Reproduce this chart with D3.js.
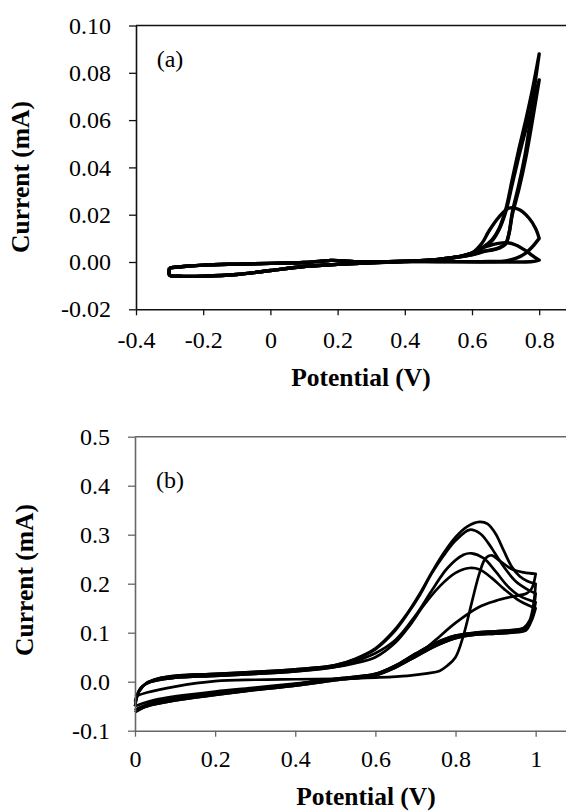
<!DOCTYPE html>
<html>
<head>
<meta charset="utf-8">
<script src="https://cdn.jsdelivr.net/npm/d3@7"></script>
<style>
  body { margin: 0; background: #fff; }
  svg { display: block; }
</style>
</head>
<body>
<div id="chart"></div>
<script>
// ---------- panel (a) data: [potential V, current mA] ----------
const aTicksX = [-0.4, -0.2, 0, 0.2, 0.4, 0.6, 0.8];
const aLabelsX = ["-0.4", "-0.2", "0", "0.2", "0.4", "0.6", "0.8"];
const aTicksY = [-0.02, 0, 0.02, 0.04, 0.06, 0.08, 0.10];
const aLabelsY = ["-0.02", "0.00", "0.02", "0.04", "0.06", "0.08", "0.10"];

// forward scan, shared low-potential part
const aFwdBase = [[-0.3,-0.0025],[-0.25,-0.0018],[-0.2,-0.0013],[-0.1,-0.0009],[0,-0.0006],[0.1,-0.0002],
  [0.15,0.0003],[0.18,0.0007],[0.21,0.0005],[0.25,0.0001],[0.3,0],[0.4,0.0003],[0.5,0.0011],[0.55,0.002],[0.6,0.0038]];
// reverse scan, shared low-potential part
const aRevBase = [[0.4,0.0002],[0.3,-0.0003],[0.2,-0.001],[0.1,-0.0019],[0,-0.0036],[-0.1,-0.0053],
  [-0.2,-0.006],[-0.27,-0.006],[-0.3,-0.0055],[-0.3,-0.0025]];

const aFwd1 = [[0.63,0.006],[0.66,0.0095],[0.68,0.014],[0.70,0.022],[0.72,0.035],[0.74,0.048],[0.76,0.060],[0.78,0.073],[0.80,0.088]];
const aRev1 = [[0.80,0.088],[0.79,0.078],[0.78,0.067],[0.76,0.047],[0.74,0.033],[0.72,0.021],[0.71,0.012],[0.70,0.0075],
  [0.68,0.0058],[0.66,0.005],[0.64,0.0046],[0.62,0.0038],[0.6,0.003],[0.5,0.001]];
const aFwd2 = [[0.63,0.0058],[0.66,0.009],[0.68,0.0135],[0.70,0.021],[0.72,0.033],[0.74,0.045],[0.76,0.056],[0.78,0.066],[0.80,0.077]];
const aRev2 = [[0.80,0.077],[0.78,0.060],[0.76,0.044],[0.74,0.031],[0.72,0.020],[0.71,0.012],[0.70,0.0078],
  [0.68,0.006],[0.66,0.0052],[0.64,0.0047],[0.62,0.004],[0.6,0.0031],[0.5,0.0011]];
const aFwd3 = [[0.63,0.008],[0.65,0.013],[0.68,0.019],[0.71,0.0228],[0.74,0.0222],[0.77,0.0185],[0.79,0.014],[0.80,0.010]];
const aRev3 = [[0.80,0.010],[0.78,0.0065],[0.76,0.0038],[0.73,0.0015],[0.70,0.0005],[0.65,0.0002],[0.6,0.0001],[0.5,0.0002]];
const aFwd4 = [[0.63,0.006],[0.66,0.0073],[0.70,0.0082],[0.73,0.0072],[0.76,0.0048],[0.78,0.0027],[0.80,0.0008]];
const aRev4 = [[0.80,0.0008],[0.78,0.0002],[0.74,0],[0.65,0],[0.5,0.0001]];

// ---------- panel (b) data ----------
const bTicksX = [0, 0.2, 0.4, 0.6, 0.8, 1.0];
const bLabelsX = ["0", "0.2", "0.4", "0.6", "0.8", "1"];
const bTicksY = [-0.1, 0, 0.1, 0.2, 0.3, 0.4, 0.5];
const bLabelsY = ["-0.1", "0.0", "0.1", "0.2", "0.3", "0.4", "0.5"];

// first cycle (sharp peak) and its reverse
const bFwd1 = [[0,-0.03],[0.03,-0.022],[0.1,-0.01],[0.2,0.001],[0.3,0.004],[0.4,0.005],[0.5,0.006],[0.6,0.0085],
  [0.68,0.012],[0.73,0.017],[0.76,0.022],[0.78,0.033],[0.80,0.05],[0.82,0.095],[0.84,0.16],[0.86,0.222],
  [0.875,0.252],[0.89,0.258],[0.91,0.247],[0.94,0.23],[0.97,0.223],[1.0,0.22]];
const bRev1 = [[1.0,0.22],[0.99,0.19],[0.977,0.18],[0.95,0.175],[0.9,0.165],[0.86,0.153],[0.8,0.12],[0.75,0.085],
  [0.72,0.065],[0.68,0.045],[0.64,0.028],[0.6,0.015],[0.5,0.005],[0.4,-0.004],[0.3,-0.012],[0.2,-0.02],
  [0.1,-0.03],[0.05,-0.037],[0.02,-0.044],[0,-0.05]];

// later cycles: forward starts, peaks, vertex drops, reverse plateaus
const bStartA = [[0,-0.05],[0.01,-0.02],[0.03,-0.002],[0.06,0.007],[0.1,0.012],[0.2,0.016],[0.3,0.02],[0.4,0.025],[0.5,0.034]];
const bStartB = [[0,-0.04],[0.015,-0.012],[0.04,0.0],[0.1,0.008],[0.2,0.012],[0.3,0.016],[0.4,0.021],[0.5,0.03]];
const bPeak1 = [[0.55,0.047],[0.6,0.068],[0.645,0.103],[0.68,0.14],[0.711,0.18],[0.74,0.222],[0.77,0.262],[0.8,0.295],
  [0.83,0.317],[0.86,0.326],[0.88,0.322],[0.9,0.302],[0.92,0.268],[0.94,0.235],[0.96,0.215],[0.98,0.205],[1.0,0.2]];
const bPeak2 = [[0.55,0.046],[0.6,0.066],[0.645,0.1],[0.68,0.138],[0.711,0.177],[0.74,0.22],[0.77,0.257],[0.8,0.288],
  [0.835,0.31],[0.86,0.303],[0.88,0.285],[0.9,0.26],[0.92,0.235],[0.95,0.205],[0.98,0.188],[1.0,0.18]];
const bPeak3 = [[0.55,0.042],[0.6,0.058],[0.65,0.085],[0.7,0.135],[0.74,0.185],[0.78,0.232],[0.82,0.259],[0.84,0.262],
  [0.87,0.252],[0.9,0.225],[0.93,0.195],[0.96,0.175],[1.0,0.162]];
const bPeak4 = [[0.55,0.038],[0.6,0.05],[0.65,0.08],[0.686,0.115],[0.72,0.155],[0.761,0.195],[0.8,0.222],[0.835,0.232],
  [0.86,0.229],[0.89,0.212],[0.92,0.19],[0.96,0.165],[1.0,0.15]];
const bDrop1 = [[1.0,0.2],[0.995,0.16],[0.985,0.125],[0.97,0.11]];
const bDrop2 = [[1.0,0.18],[0.995,0.15],[0.985,0.12],[0.97,0.105]];
const bDrop3 = [[1.0,0.162],[0.99,0.13],[0.975,0.11]];
const bDrop4 = [[1.0,0.15],[0.99,0.125],[0.975,0.104]];
const bPlatA = [[0.95,0.106],[0.9,0.103],[0.85,0.1],[0.8,0.094],[0.75,0.079],[0.7,0.057],[0.65,0.033],[0.6,0.016],
  [0.5,0.006],[0.4,-0.005],[0.3,-0.014],[0.2,-0.023],[0.1,-0.034],[0.05,-0.042],[0.02,-0.05],[0,-0.058]];
const bPlatB = [[0.95,0.101],[0.9,0.098],[0.85,0.096],[0.8,0.089],[0.75,0.073],[0.7,0.051],[0.65,0.029],[0.6,0.013],
  [0.5,0.003],[0.4,-0.008],[0.3,-0.017],[0.2,-0.027],[0.1,-0.038],[0.05,-0.046],[0.02,-0.053],[0,-0.062]];

const W = 566, H = 812;
const FONT = "'Liberation Serif', 'Times New Roman', serif";

const svg = d3.select("#chart").append("svg")
  .attr("width", W)
  .attr("height", H)
  .attr("font-family", FONT);

function drawPanel(p) {
  const x = d3.scaleLinear().domain(p.xDomain).range([p.left, p.right]);
  const y = d3.scaleLinear().domain(p.yDomain).range([p.bottom, p.top]);
  const g = svg.append("g");

  const line = d3.line()
    .x(d => x(d[0]))
    .y(d => y(d[1]))
    .curve(d3.curveCatmullRom.alpha(0.5));

  g.append("g")
    .selectAll("path")
    .data(p.cycles)
    .enter()
    .append("path")
    .attr("d", line)
    .attr("fill", "none")
    .attr("stroke", "#000")
    .attr("stroke-width", p.lineWidth)
    .attr("stroke-linejoin", "round");

  // top border (right side is cut off by the picture edge)
  g.append("line")
    .attr("x1", p.left).attr("x2", W)
    .attr("y1", p.top).attr("y2", p.top)
    .attr("stroke", p.axisColor)
    .attr("stroke-width", 1.6);

  const yAxis = g.append("g")
    .attr("transform", `translate(${p.left},0)`)
    .call(d3.axisLeft(y)
      .tickValues(p.yTicks)
      .tickFormat((d, i) => p.yLabels[i])
      .tickSize(7)
      .tickSizeOuter(0)
      .tickPadding(18));

  const xAxis = g.append("g")
    .attr("transform", `translate(0,${p.bottom})`)
    .call(d3.axisBottom(x)
      .tickValues(p.xTicks)
      .tickFormat((d, i) => p.xLabels[i])
      .tickSize(6)
      .tickSizeOuter(0)
      .tickPadding(p.xPad));

  [xAxis, yAxis].forEach(a => {
    a.attr("font-family", FONT);
    a.select(".domain").attr("stroke", p.axisColor).attr("stroke-width", 1.6);
    a.selectAll(".tick line").attr("stroke", p.axisColor).attr("stroke-width", 1.3);
    a.selectAll("text")
      .attr("fill", "#000")
      .style("font-family", FONT)
      .style("font-size", "24px");
  });

  g.append("text")
    .attr("x", p.xTitle[0])
    .attr("y", p.xTitle[1])
    .attr("text-anchor", "middle")
    .style("font-family", FONT)
    .style("font-size", "25.5px")
    .style("font-weight", "bold")
    .text("Potential (V)");

  g.append("text")
    .attr("transform", `translate(${p.yTitle[0]},${p.yTitle[1]}) rotate(-90)`)
    .attr("text-anchor", "middle")
    .style("font-family", FONT)
    .style("font-size", "25.5px")
    .style("font-weight", "bold")
    .text("Current (mA)");

  g.append("text")
    .attr("x", p.tag[0])
    .attr("y", p.tag[1])
    .attr("text-anchor", "middle")
    .style("font-family", FONT)
    .style("font-size", "24px")
    .text(p.tagText);
}

drawPanel({
  xDomain: [-0.4, 1.0], left: 136, right: 606.4,
  yDomain: [-0.02, 0.10], top: 25.5, bottom: 309.3,
  xTicks: aTicksX, xLabels: aLabelsX, yTicks: aTicksY, yLabels: aLabelsY,
  xPad: 16, axisColor: "#111", lineWidth: 3.4,
  cycles: [
    aFwdBase.concat(aFwd1, aRev1, aRevBase),
    aFwdBase.concat(aFwd2, aRev2, aRevBase),
    aFwdBase.concat(aFwd3, aRev3, aRevBase),
    aFwdBase.concat(aFwd4, aRev4, aRevBase)
  ],
  xTitle: [361, 386], yTitle: [28.5, 177],
  tag: [170, 67], tagText: "(a)"
});

drawPanel({
  xDomain: [0, 1.2], left: 135, right: 615.8,
  yDomain: [-0.1, 0.5], top: 436.7, bottom: 730.7,
  xTicks: bTicksX, xLabels: bLabelsX, yTicks: bTicksY, yLabels: bLabelsY,
  xPad: 13, axisColor: "#666", lineWidth: 2.7,
  cycles: [
    bFwd1.concat(bRev1),
    bStartA.concat(bPeak1, bDrop1, bPlatA),
    bStartA.concat(bPeak2, bDrop2, bPlatB),
    bStartB.concat(bPeak3, bDrop3, bPlatA),
    bStartB.concat(bPeak4, bDrop4, bPlatB)
  ],
  xTitle: [366, 805], yTitle: [33, 580],
  tag: [170, 488], tagText: "(b)"
});
</script>
</body>
</html>
